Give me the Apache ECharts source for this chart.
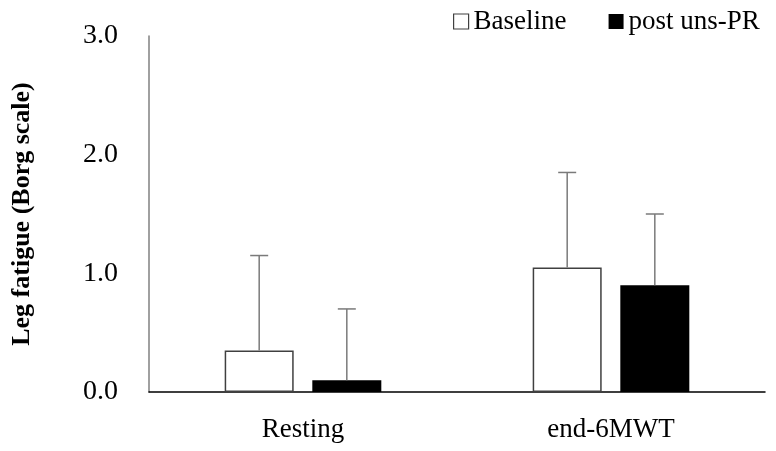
<!DOCTYPE html>
<html>
<head>
<meta charset="utf-8">
<script src="https://cdn.jsdelivr.net/npm/echarts@6/dist/echarts.min.js"></script>
<style>html,body{margin:0;padding:0;background:#fff}#c{width:776px;height:451px}</style>
</head>
<body>
<div id="c"></div>
<script>
const categories = ['Resting', 'end-6MWT'];
const baseline = [0.35, 1.05];
const postPR = [0.10, 0.90];
const baselineErr = [0.80, 0.80];
const postErr = [0.60, 0.60];
const yTicks = [0, 1, 2, 3];

const FONT = '"Liberation Serif", "Times New Roman", serif';
const BAR_W = 69;
const GAP = 0.27;
const OFF = BAR_W / 2 + BAR_W * GAP / 2;

function errSeries(vals, errs, dir) {
  return {
    type: 'custom',
    silent: true,
    z: 5,
    data: vals.map((v, i) => [i, v, v + errs[i]]),
    renderItem: function (params, api) {
      const i = api.value(0);
      const p0 = api.coord([i, api.value(1)]);
      const p1 = api.coord([i, api.value(2)]);
      const x = p0[0] + dir * OFF;
      const cap = 9;
      const st = { stroke: '#7a7a7a', lineWidth: 1.5 };
      return {
        type: 'group',
        children: [
          { type: 'line', shape: { x1: x, y1: p0[1], x2: x, y2: p1[1] }, style: st },
          { type: 'line', shape: { x1: x - cap, y1: p1[1], x2: x + cap, y2: p1[1] }, style: st }
        ]
      };
    }
  };
}

const chart = echarts.init(document.getElementById('c'));
chart.setOption({
  animation: false,
  backgroundColor: '#fff',
  textStyle: { fontFamily: FONT },
  grid: { left: 149, right: 11, top: 36, bottom: 59, containLabel: false, outerBoundsMode: 'none' },
  legend: {
    left: 448, top: 3,
    itemWidth: 15, itemHeight: 15, itemGap: 42,
    textStyle: { fontFamily: FONT, fontSize: 27, color: '#000' },
    data: [
      { name: 'Baseline', icon: 'rect', itemStyle: { color: '#fff', borderColor: '#404040', borderWidth: 1.2 } },
      { name: 'post uns-PR', icon: 'rect', itemStyle: { color: '#000', borderColor: '#000', borderWidth: 0 } }
    ]
  },
  xAxis: {
    type: 'category',
    data: categories,
    axisLine: { lineStyle: { color: '#000', width: 1.5 } },
    axisTick: { show: false },
    axisLabel: { fontFamily: FONT, fontSize: 27, color: '#000', margin: 24 }
  },
  yAxis: {
    type: 'value',
    min: yTicks[0], max: yTicks[yTicks.length - 1], interval: 1,
    name: 'Leg fatigue (Borg scale)',
    nameLocation: 'middle',
    nameGap: 114,
    nameTextStyle: { fontFamily: FONT, fontSize: 26, fontWeight: 'bold', color: '#000' },
    axisLine: { show: true, lineStyle: { color: '#808080', width: 1.5 } },
    axisTick: { show: false },
    splitLine: { show: false },
    axisLabel: { fontFamily: FONT, fontSize: 28, color: '#000', margin: 31, formatter: v => v.toFixed(1) }
  },
  series: [
    {
      name: 'Baseline', type: 'bar', data: baseline,
      barWidth: BAR_W, barGap: (GAP * 100) + '%',
      itemStyle: { color: '#fff', borderColor: '#404040', borderWidth: 1.5 }
    },
    {
      name: 'post uns-PR', type: 'bar', data: postPR,
      barWidth: BAR_W,
      itemStyle: { color: '#000', borderColor: '#000', borderWidth: 0 }
    },
    errSeries(baseline, baselineErr, -1),
    errSeries(postPR, postErr, 1)
  ]
});
</script>
</body>
</html>
